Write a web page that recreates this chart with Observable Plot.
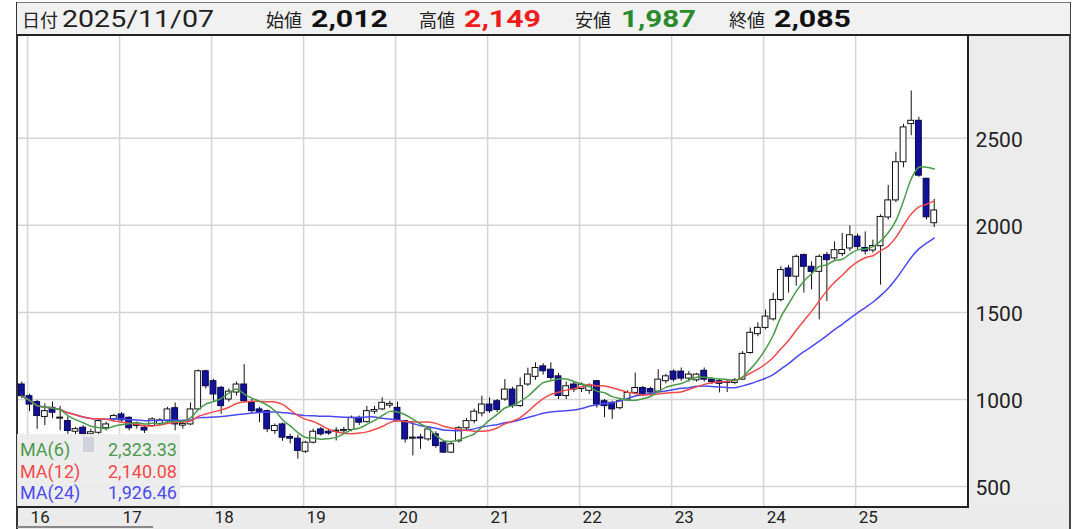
<!DOCTYPE html>
<html><head><meta charset="utf-8">
<script src="https://cdn.jsdelivr.net/npm/d3@7"></script>
<script src="https://cdn.jsdelivr.net/npm/@observablehq/plot@0.6"></script>
<style>
body{margin:0;background:#fff;}
#wrap{position:relative;width:1084px;height:529px;overflow:hidden;font-family:Roboto,"Noto Sans CJK JP",sans-serif;}
.abs{position:absolute;}
.lg{position:absolute;left:3px;right:3px;height:20px;font-size:18px;line-height:20px;font-family:Roboto,sans-serif;}
.lg span.v{position:absolute;right:0;}
</style></head><body><div id="wrap"></div>
<script>
// ---- data (monthly candles, Dec 2015 .. Nov 2025) ----
const headerDate = "2025/11/07";
const firstMonthIndex = -1; // Dec 2015 (0 = Jan 2016)
const opens  = [1086,1019,985,900,952,890,876,815,838,800,809,835,886,914,895,848,838,848,860,876,950,850,857,943,1162,
  1105,1067,1000,1040,1086,981,943,933,819,857,785,775,
  700,752,828,815,815,818,825,895,870,930,943,965,
  952,876,775,780,771,800,752,695,760,835,876,920,
  971,990,1000,1057,962,1086,1130,1190,1171,1133,1020,1086,
  1060,1050,1105,990,981,950,995,1038,1066,1060,1045,1105,
  1160,1160,1120,1110,1165,1114,1105,1100,1095,1114,1267,1375,
  1411,1460,1571,1752,1705,1829,1762,1733,1829,1810,1835,1867,
  1935,1870,1855,1880,2045,2143,2362,2581,2600,2267,2012];
const highs  = [1100,1030,995,975,985,960,900,840,850,830,885,870,915,925,900,870,850,895,890,955,980,880,980,1170,1168,
  1115,1075,1060,1100,1200,1000,955,940,860,865,800,795,
  760,830,840,830,838,840,905,905,960,960,1010,990,
  985,880,867,800,845,815,760,755,845,890,945,1019,
  1010,1000,1114,1070,1124,1180,1210,1205,1210,1150,1100,1100,
  1095,1090,1110,1000,990,1000,1050,1152,1075,1070,1171,1145,
  1170,1181,1160,1150,1181,1125,1115,1110,1120,1275,1410,1440,
  1514,1610,1762,1770,1830,1835,1790,1830,1845,1905,1954,1996,
  1950,1962,1915,2060,2229,2419,2580,2771,2620,2270,2149];
const lows   = [1005,930,829,850,890,820,800,790,780,780,800,820,870,870,820,830,805,840,850,865,820,830,850,935,1060,
  990,915,985,1020,980,914,867,810,800,760,745,657,
  690,745,790,795,762,800,815,850,865,915,935,950,
  870,750,676,714,760,720,690,690,750,825,860,900,
  920,925,990,950,955,1075,1110,1140,1110,1000,1000,1040,
  1040,1030,950,895,886,940,990,1030,1015,1020,1040,1090,
  1100,1105,1100,1100,1100,1085,1038,1040,1085,1110,1260,1360,
  1400,1450,1560,1611,1650,1611,1629,1457,1562,1800,1820,1850,
  1860,1830,1840,1657,2030,2130,2330,2514,2276,2030,1987];
const closes = [1019,971,905,933,924,895,819,830,800,812,876,857,905,880,835,855,822,886,880,943,857,860,943,1162,1076,
  1029,962,1045,1086,990,933,924,829,848,781,775,705,
  752,815,800,805,818,825,895,867,933,940,981,975,
  876,771,780,776,828,733,695,743,835,876,930,971,
  933,940,1057,962,1076,1143,1181,1162,1124,1020,1076,1057,
  1085,1080,971,962,943,990,1038,1066,1028,1040,1114,1133,
  1114,1120,1143,1143,1114,1100,1090,1095,1110,1262,1383,1411,
  1476,1571,1743,1705,1819,1762,1733,1819,1800,1857,1858,1943,
  1876,1850,1881,2048,2143,2362,2562,2600,2285,2046,2085];
const yearLabels = ["16","17","18","19","20","21","22","23","24","25"];
const yTicks = [500,1000,1500,2000,2500];
const maPeriods = [6,12,24];

// ---- styles ----
const maColors = ["#4a9a4a","#f24a4a","#4a4af0"];
const upFill = "#ffffff", downFill = "#11119a";

const rows = opens.map((o,k)=>({i:k+firstMonthIndex,o,h:highs[k],l:lows[k],c:closes[k]}));
const last = rows[rows.length-1];
const yearPos = yearLabels.map((_,k)=>12*k-0.25);
const bodyLo = d=>Math.min(d.o,d.c);
const bodyHi = d=>Math.max(d.o,d.c,Math.min(d.o,d.c)+6);

const wrap = document.getElementById("wrap");
function box(css){const d=document.createElement("div");d.className="abs";Object.assign(d.style,css);wrap.appendChild(d);return d;}

// grey axis backgrounds
box({left:"17px",top:"507px",width:"1054px",height:"22px",background:"#ebebeb"});
box({left:"968px",top:"35px",width:"103px",height:"472px",background:"#ececec"});

const maMarks = maPeriods.map((p,k)=>Plot.line(rows, Plot.windowY({k:p, anchor:"end", reduce:"mean"},
  {x:"i", y:"c", stroke:maColors[k], strokeWidth:1.5, curve:"catmull-rom"}))).reverse();

const chart = Plot.plot({
  width:1084, height:529,
  marginLeft:18, marginRight:116, marginTop:35, marginBottom:22,
  style:{background:"transparent", overflow:"visible", fontFamily:"Roboto, sans-serif"},
  x:{type:"linear", domain:[-1.435,122.47]},
  y:{type:"linear", domain:[380,3089.6]},
  marks:[
    Plot.gridX(yearPos,{stroke:"#d4d4d4", strokeOpacity:1, strokeWidth:1.5}),
    Plot.gridY(yTicks,{stroke:"#d4d4d4", strokeOpacity:1, strokeWidth:1.5}),
    Plot.ruleX(rows,{x:"i", y1:"l", y2:"h", stroke:"#111", strokeWidth:1}),
    Plot.rect(rows.filter(d=>d.c>=d.o),{x1:d=>d.i-0.38, x2:d=>d.i+0.38, y1:bodyLo, y2:bodyHi, fill:upFill, stroke:"#111", strokeWidth:1}),
    Plot.rect(rows.filter(d=>d.c<d.o),{x1:d=>d.i-0.38, x2:d=>d.i+0.38, y1:bodyLo, y2:bodyHi, fill:downFill, stroke:"#06064a", strokeWidth:1}),
    ...maMarks,
    Plot.axisY(yTicks,{anchor:"right", tickSize:0, tickPadding:7, fontSize:21, textAnchor:"start", dy:2, fill:"#222", label:null,
      tickFormat:d=>String(d)}),
    Plot.axisX(yearPos,{anchor:"bottom", tickSize:0, tickPadding:3, fontSize:17, textAnchor:"start", dx:3, fill:"#222", label:null,
      tickFormat:d=>yearLabels[Math.round((d+0.25)/12)]})
  ]
});
chart.style.position="absolute"; chart.style.left="0"; chart.style.top="0";
wrap.appendChild(chart);

// borders
box({left:"16px",top:"2px",width:"2px",height:"527px",background:"#333"});
box({left:"967px",top:"35px",width:"2px",height:"473px",background:"#222"});
box({left:"17px",top:"506px",width:"952px",height:"2px",background:"#222"});
box({left:"1069px",top:"2px",width:"2px",height:"527px",background:"#444"});
box({left:"17px",top:"526px",width:"136px",height:"2px",background:"#888"});

// header
const hdr = box({left:"17px",top:"2px",width:"1053px",height:"31px",background:"#f1f1f1",borderTop:"1px solid #777",borderBottom:"2px solid #222"});
const fmt = d3.format(",");
const hs = d3.select(hdr).append("svg").attr("width",1053).attr("height",31).style("position","absolute").style("left","0").style("top","0");
const items = [
  {t:"日付", x:22, size:18, w:null, color:"#222", weight:"normal", cjk:true},
  {t:headerDate, x:62, size:23, w:152, color:"#222", weight:"normal"},
  {t:"始値", x:266, size:18, w:null, color:"#222", weight:"normal", cjk:true},
  {t:fmt(last.o), x:311, size:24, w:77, color:"#111", weight:"bold"},
  {t:"高値", x:419, size:18, w:null, color:"#222", weight:"normal", cjk:true},
  {t:fmt(last.h), x:464, size:24, w:77, color:"#ee1c1c", weight:"bold"},
  {t:"安値", x:575, size:18, w:null, color:"#222", weight:"normal", cjk:true},
  {t:fmt(last.l), x:621, size:24, w:75, color:"#2a8a2a", weight:"bold"},
  {t:"終値", x:729, size:18, w:null, color:"#222", weight:"normal", cjk:true},
  {t:fmt(last.c), x:774, size:24, w:77, color:"#111", weight:"bold"}
];
items.forEach(it=>{
  const t = hs.append("text").attr("x",it.x-17).attr("y",24).text(it.t)
    .attr("font-size",it.size).attr("font-weight",it.weight).attr("fill",it.color)
    .attr("font-family", it.cjk ? "'Noto Sans CJK JP', sans-serif" : "Roboto, sans-serif");
  if (it.w) t.attr("textLength",it.w).attr("lengthAdjust","spacingAndGlyphs");
});

// MA legend
const lgd = box({left:"17px",top:"434px",width:"163px",height:"72px",background:"rgba(236,236,236,0.93)"});
box({left:"83px",top:"437px",width:"11px",height:"15px",background:"rgba(190,190,210,0.6)"});
maPeriods.forEach((p,k)=>{
  const ma = d3.mean(closes.slice(-p));
  const row = document.createElement("div"); row.className="lg";
  row.style.top = (6+k*21.5)+"px"; row.style.color = maColors[k];
  row.innerHTML = `<span>MA(${p})</span><span class="v">${d3.format(",.2f")(ma)}</span>`;
  lgd.appendChild(row);
});
</script></body></html>
